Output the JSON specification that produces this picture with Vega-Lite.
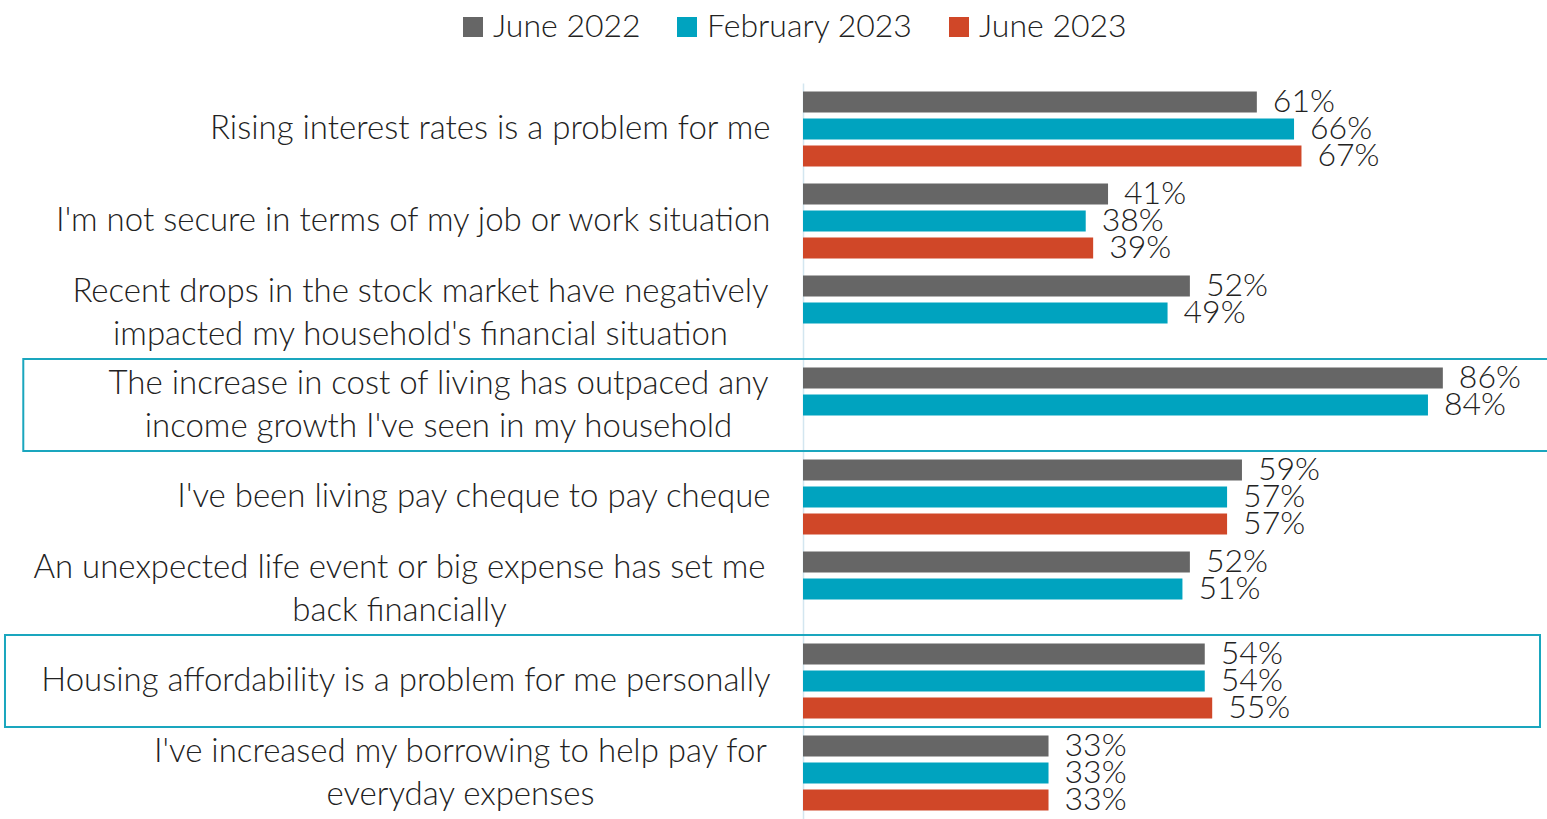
{
  "$schema": "https://vega.github.io/schema/vega-lite/v6.json",
  "autosize": {"type": "none"},
  "padding": {"left": 803, "top": 83, "right": 0, "bottom": 0},
  "width": 744,
  "height": 736,
  "background": "white",
  "config": {"view": {"stroke": null}, "font": "Lato"},
  "datasets": {
    "bars": [
      {"category": "Rising interest rates is a problem for me", "series": "June 2022", "value": 0.61},
      {"category": "Rising interest rates is a problem for me", "series": "February 2023", "value": 0.66},
      {"category": "Rising interest rates is a problem for me", "series": "June 2023", "value": 0.67},
      {"category": "I'm not secure in terms of my job or work situation", "series": "June 2022", "value": 0.41},
      {"category": "I'm not secure in terms of my job or work situation", "series": "February 2023", "value": 0.38},
      {"category": "I'm not secure in terms of my job or work situation", "series": "June 2023", "value": 0.39},
      {"category": "Recent drops in the stock market have negatively|impacted my household's financial situation", "series": "June 2022", "value": 0.52},
      {"category": "Recent drops in the stock market have negatively|impacted my household's financial situation", "series": "February 2023", "value": 0.49},
      {"category": "The increase in cost of living has outpaced any|income growth I've seen in my household", "series": "June 2022", "value": 0.86},
      {"category": "The increase in cost of living has outpaced any|income growth I've seen in my household", "series": "February 2023", "value": 0.84},
      {"category": "I've been living pay cheque to pay cheque", "series": "June 2022", "value": 0.59},
      {"category": "I've been living pay cheque to pay cheque", "series": "February 2023", "value": 0.57},
      {"category": "I've been living pay cheque to pay cheque", "series": "June 2023", "value": 0.57},
      {"category": "An unexpected life event or big expense has set me|back financially", "series": "June 2022", "value": 0.52},
      {"category": "An unexpected life event or big expense has set me|back financially", "series": "February 2023", "value": 0.51},
      {"category": "Housing affordability is a problem for me personally", "series": "June 2022", "value": 0.54},
      {"category": "Housing affordability is a problem for me personally", "series": "February 2023", "value": 0.54},
      {"category": "Housing affordability is a problem for me personally", "series": "June 2023", "value": 0.55},
      {"category": "I've increased my borrowing to help pay for|everyday expenses", "series": "June 2022", "value": 0.33},
      {"category": "I've increased my borrowing to help pay for|everyday expenses", "series": "February 2023", "value": 0.33},
      {"category": "I've increased my borrowing to help pay for|everyday expenses", "series": "June 2023", "value": 0.33}
    ],
    "boxes": [
      {"category": "The increase in cost of living has outpaced any|income growth I've seen in my household", "from": -1.048, "to": 1.003},
      {"category": "Housing affordability is a problem for me personally", "from": -1.0726, "to": 0.9906}
    ]
  },
  "data": {"name": "bars"},
  "layer": [
    {
      "mark": {"type": "bar"},
      "encoding": {
        "y": {
          "field": "category", "type": "nominal", "sort": null,
          "scale": {"paddingInner": 0, "paddingOuter": 0},
          "axis": {
            "title": null, "ticks": false,
            "labelExpr": "split(datum.label, '|')",
            "labelFontSize": 33, "labelColor": "#222222", "labelLineHeight": 43,
            "labelLimit": 900, "labelFont": "Lato", "labelFontWeight": 300,
            "labelAlign": {"condition": {"test": "indexof(datum.value, '|') >= 0", "value": "center"}, "value": "right"},
            "labelOffset": {"condition": {"test": "indexof(datum.value, '|') >= 0", "value": -21.5}, "value": 0},
            "labelPadding": {"expr": "indexof(datum.value, 'Recent drops') == 0 ? 383 : indexof(datum.value, 'The increase') == 0 ? 365 : indexof(datum.value, 'An unexpected') == 0 ? 404 : indexof(datum.value, 'borrowing') >= 0 ? 343 : 33"},
            "domainColor": "#D3E6F0", "domainWidth": 1.5
          }
        },
        "yOffset": {
          "field": "series", "type": "nominal",
          "scale": {"domain": ["June 2022", "February 2023", "June 2023"], "paddingInner": 0.222, "paddingOuter": 0.315}
        },
        "x": {
          "field": "value", "type": "quantitative",
          "scale": {"domain": [0, 1], "nice": false, "zero": true},
          "axis": null
        },
        "color": {
          "field": "series", "type": "nominal",
          "scale": {"domain": ["June 2022", "February 2023", "June 2023"], "range": ["#666666", "#00A3BF", "#D04728"]},
          "legend": {
            "title": null, "orient": "none", "direction": "horizontal",
            "legendX": -346, "legendY": -72,
            "symbolType": "square", "symbolSize": 400, "symbolStrokeWidth": 0,
            "labelFontSize": 32, "labelColor": "#222222", "labelFont": "Lato", "labelFontWeight": 300,
            "labelLimit": 400, "labelOffset": 4, "columnPadding": 30, "symbolOpacity": 1
          }
        }
      }
    },
    {
      "mark": {"type": "text", "align": "left", "baseline": "middle", "dx": 16, "fontSize": 32, "fontWeight": 300, "color": "#222222", "font": "Lato"},
      "encoding": {
        "y": {"field": "category", "type": "nominal", "sort": null},
        "yOffset": {"field": "series", "type": "nominal"},
        "x": {"field": "value", "type": "quantitative"},
        "text": {"field": "value", "type": "quantitative", "format": ".0%"}
      }
    },
    {
      "data": {"name": "boxes"},
      "mark": {"type": "rect", "fill": null, "fillOpacity": 0, "stroke": "#1AA6BE", "strokeWidth": 2},
      "encoding": {
        "y": {"field": "category", "type": "nominal", "sort": null},
        "x": {"field": "from", "type": "quantitative"},
        "x2": {"field": "to"}
      }
    }
  ]
}
